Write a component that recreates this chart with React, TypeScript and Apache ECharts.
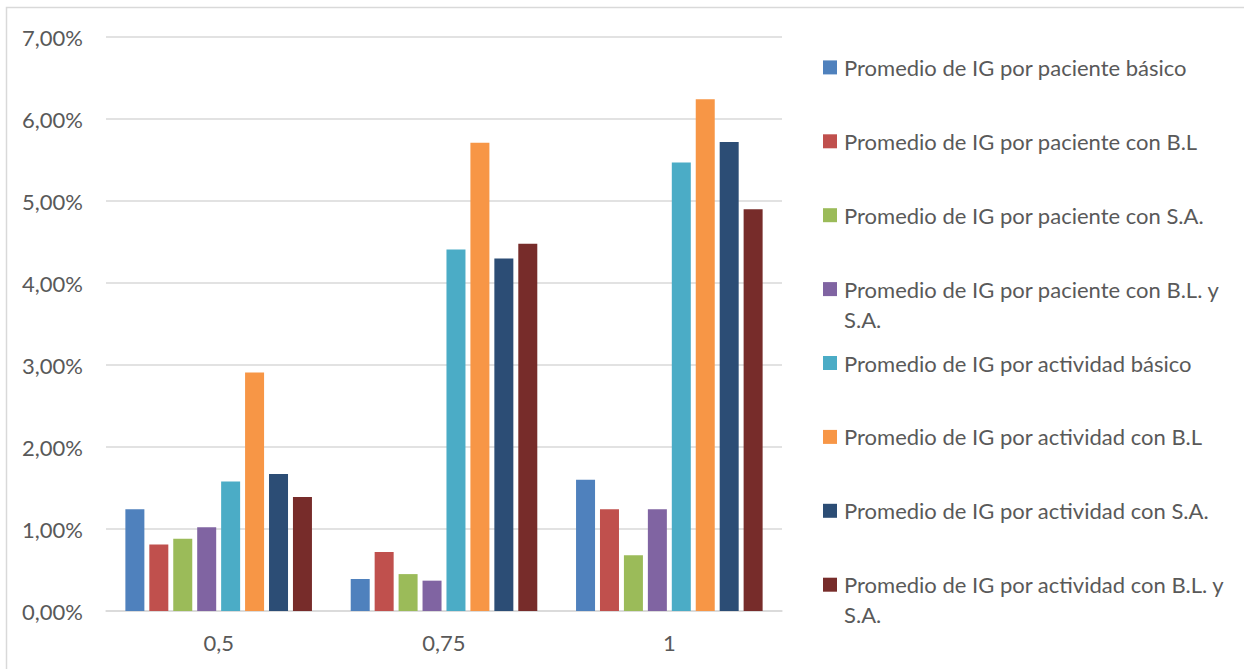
import React, { useEffect, useRef } from "react";
import * as echarts from "echarts";

const categories = ["0,5", "0,75", "1"];

const seriesNames = [
  "Promedio de IG por paciente básico",
  "Promedio de IG por paciente con B.L",
  "Promedio de IG por paciente con S.A.",
  "Promedio de IG por paciente con B.L. y S.A.",
  "Promedio de IG por actividad básico",
  "Promedio de IG por actividad con B.L",
  "Promedio de IG por actividad con S.A.",
  "Promedio de IG por actividad con B.L. y S.A.",
];

const seriesColors = [
  "#4F81BD",
  "#C0504D",
  "#9BBB59",
  "#8064A2",
  "#4BACC6",
  "#F79646",
  "#2C4D75",
  "#772C2A",
];

// values in percent
const pacienteBasico = [1.24, 0.39, 1.6];
const pacienteBL = [0.81, 0.72, 1.24];
const pacienteSA = [0.88, 0.45, 0.68];
const pacienteBLSA = [1.02, 0.37, 1.24];
const actividadBasico = [1.58, 4.41, 5.47];
const actividadBL = [2.91, 5.71, 6.24];
const actividadSA = [1.67, 4.3, 5.72];
const actividadBLSA = [1.39, 4.48, 4.9];

const seriesValues = [
  pacienteBasico,
  pacienteBL,
  pacienteSA,
  pacienteBLSA,
  actividadBasico,
  actividadBL,
  actividadSA,
  actividadBLSA,
];

const yTicks = { min: 0, max: 7, interval: 1 };

const FONT = "Lato";
const TEXT_COLOR = "#595959";
const GRID_COLOR = "#d9d9d9";

export default function App() {
  const ref = useRef<HTMLDivElement>(null);

  useEffect(() => {
    document.body.style.margin = "0";
    if (!ref.current) return;
    const chart = echarts.init(ref.current, undefined, { renderer: "svg" });

    const legendTop = 67.4;
    const legendStep = 73.9;
    const legendGraphics: any[] = [];
    seriesNames.forEach((name, i) => {
      const cy = legendTop + i * legendStep;
      legendGraphics.push({
        type: "rect",
        shape: { x: 823, y: cy - 7, width: 14, height: 14 },
        style: { fill: seriesColors[i] },
        silent: true,
      });
      legendGraphics.push({
        type: "text",
        x: 844,
        y: cy - 15,
        style: {
          text: name.replace(" y S.A.", " y\nS.A."),
          font: `22px ${FONT}`,
          fill: TEXT_COLOR,
          lineHeight: 30,
          verticalAlign: "top",
          align: "left",
        },
        silent: true,
      });
    });

    chart.setOption({
      animation: false,
      backgroundColor: "#ffffff",
      textStyle: { fontFamily: FONT },
      graphic: [
        {
          type: "rect",
          shape: { x: 6.5, y: 7.5, width: 1400, height: 800 },
          style: { fill: "none", stroke: GRID_COLOR, lineWidth: 1.5 },
          silent: true,
          z: -10,
        },
        ...legendGraphics,
      ],
      grid: { left: 106, top: 37, width: 676, height: 574, containLabel: false },
      xAxis: {
        type: "category",
        data: categories,
        axisLine: { show: true, lineStyle: { color: GRID_COLOR, width: 1.5 } },
        axisTick: { show: false },
        axisLabel: {
          color: TEXT_COLOR,
          fontSize: 22,
          fontFamily: FONT,
          margin: 20,
        },
      },
      yAxis: {
        type: "value",
        min: yTicks.min,
        max: yTicks.max,
        interval: yTicks.interval,
        axisLine: { show: false },
        axisTick: { show: false },
        splitLine: { lineStyle: { color: GRID_COLOR, width: 1.5 } },
        axisLabel: {
          color: TEXT_COLOR,
          fontSize: 22,
          fontFamily: FONT,
          margin: 23,
          formatter: (v: number) => v.toFixed(2).replace(".", ",") + "%",
        },
      },
      series: seriesNames.map((name, i) => ({
        name,
        type: "bar",
        data: seriesValues[i],
        barWidth: 19,
        barGap: "26%",
        itemStyle: { color: seriesColors[i] },
      })),
    });

    return () => chart.dispose();
  }, []);

  return <div ref={ref} style={{ width: 1244, height: 669 }} />;
}
